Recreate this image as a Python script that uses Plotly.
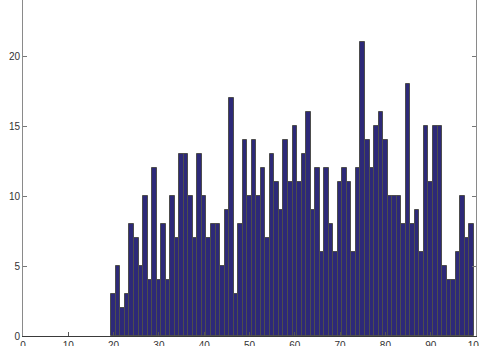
import plotly.graph_objects as go

# bin centres and counts
bin_centres = list(range(20, 100))
counts = [
    3, 5, 2, 3, 8, 7, 5, 10, 4, 12,
    4, 8, 4, 10, 7, 13, 13, 10, 7, 13,
    10, 7, 8, 8, 5, 9, 17, 3, 8, 14,
    10, 14, 10, 12, 7, 13, 11, 9, 14, 11,
    15, 11, 13, 16, 9, 12, 6, 12, 8, 6,
    11, 12, 11, 6, 12, 21, 14, 12, 15, 16,
    14, 10, 10, 10, 8, 18, 8, 9, 6, 15,
    11, 15, 15, 5, 4, 4, 6, 10, 7, 8,
]
x_ticks = [0, 10, 20, 30, 40, 50, 60, 70, 80, 90, 100]
y_ticks = [0, 5, 10, 15, 20]

fig = go.Figure()
fig.add_trace(go.Bar(
    x=bin_centres, y=counts, width=1,
    marker=dict(color='#2d2978', line=dict(color='#4d4d4d', width=1)),
))

fig.update_layout(
    width=479, height=346,
    margin=dict(l=23, r=3, t=0, b=10, autoexpand=False),
    paper_bgcolor='white', plot_bgcolor='white',
    bargap=0, showlegend=False,
    font=dict(family='Liberation Sans, Arial, sans-serif', size=10, color='#333333'),
    xaxis=dict(
        range=[0, 100], tickvals=x_ticks, ticks='inside', ticklen=4,
        tickcolor='#555555', showline=True, linecolor='#3a3a3a', linewidth=1,
        showgrid=False, zeroline=False, mirror=False, automargin=False,
        ticklabeloverflow='allow',
    ),
    yaxis=dict(
        range=[0, 24], tickvals=y_ticks, ticks='inside', ticklen=4,
        tickcolor='#777777', showline=True, linecolor='#8a8a8a', linewidth=1,
        showgrid=False, zeroline=False, mirror='ticks', automargin=False,
    ),
)

# page body has a default 8px margin; drop it so the figure sits at the corner
fig.write_html("out.html", config={'displayModeBar': False},
               post_script="document.body.style.margin='0';")
